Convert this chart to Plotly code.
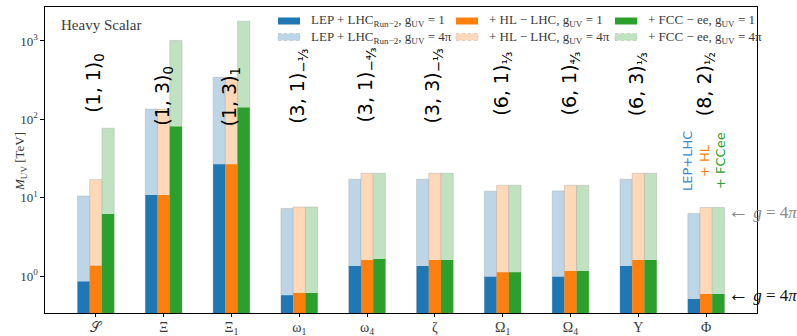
import plotly.graph_objects as go

# Fields of the heavy-scalar extension and their display labels
fields = ["S", "Xi", "Xi1", "omega1", "omega4", "zeta", "Omega1", "Omega4", "Upsilon", "Phi"]
field_labels = ["𝒮", "Ξ", "Ξ<sub>1</sub>", "ω<sub>1</sub>", "ω<sub>4</sub>", "ζ",
                "Ω<sub>1</sub>", "Ω<sub>4</sub>", "Υ", "Φ"]
irreps = ["(1, 1)<sub>0</sub>", "(1, 3)<sub>0</sub>", "(1, 3)<sub>1</sub>",
          "(3, 1)<sub>−⅓</sub>", "(3, 1)<sub>−⁴⁄₃</sub>", "(3, 3)<sub>−⅓</sub>",
          "(6, 1)<sub>⅓</sub>", "(6, 1)<sub>⁴⁄₃</sub>", "(6, 3)<sub>⅓</sub>",
          "(8, 2)<sub>½</sub>"]

# Lower bounds on M_UV [TeV]
lep_lhc_g1 = [0.85, 10.8, 26.7, 0.57, 1.34, 1.34, 0.98, 0.98, 1.34, 0.51]
lep_lhc_g4pi = [10.5, 135, 343, 7.3, 17.2, 17.2, 12.1, 12.2, 17.2, 6.3]
hl_lhc_g1 = [1.35, 10.8, 26.7, 0.61, 1.6, 1.6, 1.12, 1.16, 1.6, 0.59]
hl_lhc_g4pi = [17, 135, 343, 7.6, 20.5, 20.5, 14.4, 14.4, 20.5, 7.5]
fcc_ee_g1 = [6.2, 81, 142, 0.61, 1.65, 1.6, 1.12, 1.16, 1.6, 0.59]
fcc_ee_g4pi = [77, 1015, 1780, 7.6, 20.5, 20.5, 14.4, 14.4, 20.5, 7.5]

# Layout geometry (pixels)
W, H = 797, 336
L, R, T, B = 45, 40, 7, 23
PW, PH = W - L - R, H - T - B


def px_x(x):
    return (x - L) / PW


def px_y(y):
    return (H - B - y) / PH


SERIF = "Liberation Serif, DejaVu Serif, serif"
SANS = "DejaVu Sans, sans-serif"
TXT = "#3a3a3a"

BLUE, ORANGE, GREEN = "#1f77b4", "#ff7f0e", "#2ca02c"
BLUE_L, ORANGE_L, GREEN_L = "#bcd6e8", "#ffd9b7", "#c0e2c0"
EDGE_L = "rgba(170,170,170,0.55)"

W_BAR = 0.18
series = [
    # (values, colour, offset, label, light?)
    (lep_lhc_g4pi, BLUE_L, -0.27, "LEP + LHC<sub>Run−2</sub>, g<sub>UV</sub> = 4π", True),
    (hl_lhc_g4pi, ORANGE_L, -0.09, "+ HL − LHC, g<sub>UV</sub> = 4π", True),
    (fcc_ee_g4pi, GREEN_L, 0.09, "+ FCC − ee, g<sub>UV</sub> = 4π", True),
    (lep_lhc_g1, BLUE, -0.27, "LEP + LHC<sub>Run−2</sub>, g<sub>UV</sub> = 1", False),
    (hl_lhc_g1, ORANGE, -0.09, "+ HL − LHC, g<sub>UV</sub> = 1", False),
    (fcc_ee_g1, GREEN, 0.09, "+ FCC − ee, g<sub>UV</sub> = 1", False),
]

fig = go.Figure()
for vals, col, off, name, light in series:
    fig.add_trace(go.Bar(
        x=fields, y=vals, name=name, showlegend=False,
        offset=off, width=W_BAR,
        marker=dict(color=col,
                    line=dict(color=EDGE_L if light else col, width=0.8 if light else 0)),
    ))

annotations = []
shapes = []

# Legend: three columns, strong coupling row below the g=1 row
legend_cols = [(278, 309), (456, 487), (615, 646)]
legend_rows = [21, 37]
for i, (vals, col, off, name, light) in enumerate(series):
    (sx, tx) = legend_cols[i % 3]
    yc = legend_rows[0] if not light else legend_rows[1]
    shapes.append(dict(
        type="rect", xref="paper", yref="paper",
        x0=px_x(sx), x1=px_x(sx + 22), y0=px_y(yc + 3.5), y1=px_y(yc - 3.5),
        fillcolor=col,
        line=dict(color=EDGE_L if light else col, width=0.8 if light else 0,
                  dash="dot" if light else "solid"),
    ))
    annotations.append(dict(
        x=px_x(tx), xref="paper", y=px_y(yc), yref="paper", text=name,
        showarrow=False, xanchor="left", yanchor="middle",
        font=dict(family=SERIF, size=13, color=TXT)))

# Representation labels above each group
rep_bottoms = [115, 128, 128, 126, 125, 125, 118, 118, 118, 118]
for f, rep, yb in zip(fields, irreps, rep_bottoms):
    annotations.append(dict(
        x=f, xref="x", y=px_y(yb), yref="paper", text=rep, textangle=-90,
        showarrow=False, xanchor="center", yanchor="bottom", xshift=-1,
        font=dict(family=SANS, size=19, color="black")))

# Colour key next to the last group
for text, col, xp in [("LEP+LHC", "#3b8bc8", 687), ("+ HL", ORANGE, 704), ("+ FCCee", GREEN, 720)]:
    annotations.append(dict(
        x=px_x(xp), xref="paper", y=px_y(161), yref="paper", text=text, textangle=-90,
        showarrow=False, xanchor="center", yanchor="middle",
        font=dict(family=SANS, size=13, color=col)))

# Coupling markers on the right edge
for col, yp in [("#8a8a8a", 211), ("#111111", 294)]:
    annotations.append(dict(
        x=px_x(726), xref="paper", y=px_y(yp), yref="paper",
        text="<span style='font-size:21px'>←</span> <i>g</i> = 4<i>π</i>",
        showarrow=False, xanchor="left", yanchor="middle",
        font=dict(family=SERIF, size=17, color=col)))

# Panel title
annotations.append(dict(
    x=px_x(59), xref="paper", y=px_y(25), yref="paper", text="Heavy Scalar",
    showarrow=False, xanchor="left", yanchor="middle",
    font=dict(family=SERIF, size=15, color=TXT)))

# Y-axis title
annotations.append(dict(
    x=px_x(20), xref="paper", y=px_y(162), yref="paper",
    text="<i>M</i><sub>UV</sub> [TeV]", textangle=-90,
    showarrow=False, xanchor="center", yanchor="middle",
    font=dict(family=SERIF, size=13, color=TXT)))

fig.update_layout(
    width=W, height=H,
    margin=dict(l=L, r=R, t=T, b=B, autoexpand=False),
    paper_bgcolor="white", plot_bgcolor="white",
    barmode="overlay",
    showlegend=False,
    annotations=annotations,
    shapes=shapes,
    xaxis=dict(
        type="category", range=[-0.75, 9.75], automargin=False,
        tickmode="array", tickvals=fields, ticktext=field_labels,
        ticks="outside", ticklen=3, tickwidth=1, tickcolor="black",
        ticklabelstandoff=-2,
        showline=True, linecolor="black", linewidth=1.2, mirror=True,
        showgrid=False, zeroline=False,
        tickfont=dict(family=SERIF, size=14, color=TXT),
    ),
    yaxis=dict(
        type="log", range=[-0.471, 3.433], automargin=False,
        tickmode="array", tickvals=[1, 10, 100, 1000],
        ticktext=["10<sup>0</sup>", "10<sup>1</sup>", "10<sup>2</sup>", "10<sup>3</sup>"],
        ticks="outside", ticklen=3.5, tickwidth=1, tickcolor="black",
        showline=True, linecolor="black", linewidth=1.2, mirror=True,
        showgrid=False, zeroline=False,
        tickfont=dict(family=SERIF, size=13, color=TXT),
    ),
)

fig.write_html("out.html")
